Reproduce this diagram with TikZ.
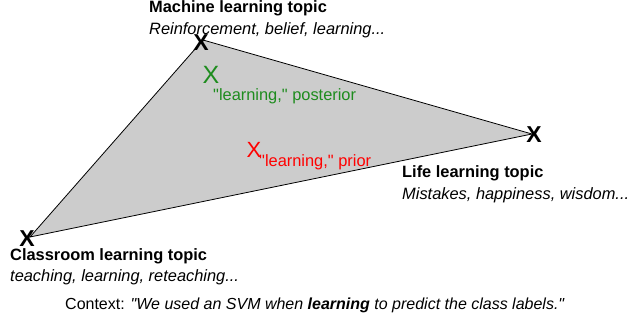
\documentclass[tikz,border=0pt]{standalone}
\usepackage{fontspec}
\setmainfont{Liberation Sans}[Ligatures=TeXOff]
\begin{document}
\begin{tikzpicture}[x=1pt,y=-1pt,
  lbl/.style={anchor=west,inner sep=0pt,font=\fontsize{16.4}{19}\selectfont},
  xmark/.style={inner sep=0pt,font=\fontsize{#1}{#1}\selectfont},
  xmark/.default=22,
  bigx/.style={inner sep=0pt,font=\fontsize{23}{23}\selectfont\bfseries}]
\useasboundingbox (0,0) rectangle (635,324);
\coordinate (vt) at (203,40);
\coordinate (vr) at (532,134);
\coordinate (vl) at (30,237);
\filldraw[fill=black!20,draw=black,line width=0.8pt] (vt) -- (vr) -- (vl) -- cycle;
\node[bigx] (xt) at (201,43) {X};
\node[bigx] (xr) at (534,135) {X};
\node[bigx] (xl) at (27,239) {X};
\node[xmark=25,text={rgb,255:red,30;green,140;blue,30}] (xg) at (211,75) {X};
\node[lbl,text={rgb,255:red,30;green,140;blue,30}] (tg) at (213,96) {"learning," posterior};
\node[xmark=22,text=red] (xred) at (254,150) {X};
\node[lbl,text=red] (tr) at (259,162) {"learning," prior};
\node[lbl] (mt) at (149,8) {\textbf{Machine learning topic}};
\node[lbl] (mw) at (149,30) {\textit{Reinforcement, belief, learning...}};
\node[lbl] (lt) at (402,173) {\textbf{Life learning topic}};
\node[lbl] (lw) at (402,195) {\textit{Mistakes, happiness, wisdom...}};
\node[lbl] (ct) at (10,256) {\textbf{Classroom learning topic}};
\node[lbl] (cw) at (10,277) {\textit{teaching, learning, reteaching...}};
\node[lbl,font=\fontsize{16}{19}\selectfont] (ctx) at (65,305) {Context: \textit{"We used an SVM when \textbf{learning} to predict the class labels."}};
\end{tikzpicture}
\end{document}
